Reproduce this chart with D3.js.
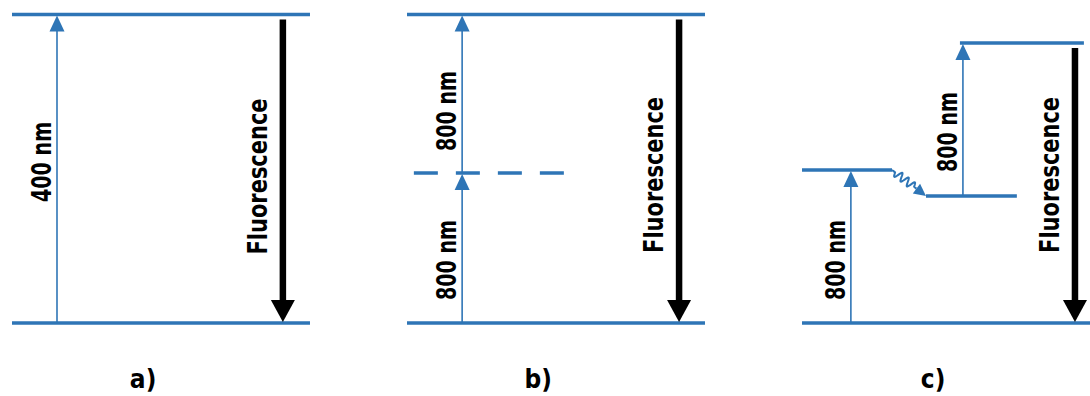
<!DOCTYPE html>
<html>
<head>
<meta charset="utf-8">
<script src="https://cdn.jsdelivr.net/npm/d3@7"></script>
<style>
  body { margin: 0; background: #fff; }
  text { font-family: "DejaVu Sans Condensed", "DejaVu Sans", sans-serif; font-weight: bold; fill: #000; }
</style>
</head>
<body>
<svg id="chart"></svg>
<script>
var width = 1090, height = 396;
var blue = "#2e75b6";

// panels of the diagram
var panels = ["a)", "b)", "c)"];

// energy levels: panel, horizontal extent (fraction of panel), energy (0 = ground, 1 = 400 nm)
var levels = [
  {panel: "a)", f0: 0,     f1: 1,     E: 0},
  {panel: "a)", f0: 0,     f1: 1,     E: 1},
  {panel: "b)", f0: 0,     f1: 1,     E: 0},
  {panel: "b)", f0: 0,     f1: 1,     E: 1},
  {panel: "b)", f0: 0.023, f1: 0.527, E: 0.486, dashed: true},
  {panel: "c)", f0: 0,     f1: 1,     E: 0},
  {panel: "c)", f0: 0,     f1: 0.302, E: 0.496},
  {panel: "c)", f0: 0.416, f1: 0.721, E: 0.412},
  {panel: "c)", f0: 0.530, f1: 0.946, E: 0.908}
];

// absorption arrows (blue): from E0 up to E1, label centred at lE
var excitations = [
  {panel: "a)", f: 0.151, E0: 0,     E1: 1,     label: "400 nm", lE: 0.522},
  {panel: "b)", f: 0.185, E0: 0,     E1: 0.486, label: "800 nm", lE: 0.204},
  {panel: "b)", f: 0.185, E0: 0.486, E1: 1,     label: "800 nm", lE: 0.687},
  {panel: "c)", f: 0.164, E0: 0,     E1: 0.496, label: "800 nm", lE: 0.204},
  {panel: "c)", f: 0.540, E0: 0.412, E1: 0.908, label: "800 nm", lE: 0.619}
];

// emission arrows (black)
var emissions = [
  {panel: "a)", f: 0.909, E0: 1,     E1: 0, label: "Fluorescence", lE: 0.475},
  {panel: "b)", f: 0.913, E0: 1,     E1: 0, label: "Fluorescence", lE: 0.480},
  {panel: "c)", f: 0.916, E0: 0.908, E1: 0, label: "Fluorescence", lE: 0.480}
];

// non-radiative relaxation (wavy arrow)
var relaxations = [
  {panel: "c)", f0: 0.302, E0: 0.496, f1: 0.416, E1: 0.412}
];

var x = d3.scaleBand().domain(panels).range([12, 1100]).paddingInner(0.2456);
var u = d3.scaleLinear().domain([0, 1]).range([0, x.bandwidth()]);
var y = d3.scaleLinear().domain([0, 1]).range([323, 14.5]);

function px(p, f) { return x(p) + u(f); }

var svg = d3.select("#chart")
    .attr("width", width)
    .attr("height", height);

// levels
svg.selectAll("line.level")
    .data(levels)
    .enter()
    .append("line")
    .attr("class", "level")
    .attr("x1", function(d) { return px(d.panel, d.f0); })
    .attr("x2", function(d) { return px(d.panel, d.f1); })
    .attr("y1", function(d) { return y(d.E); })
    .attr("y2", function(d) { return y(d.E); })
    .attr("stroke", blue)
    .attr("stroke-width", 3.5)
    .attr("stroke-dasharray", function(d) { return d.dashed ? "24,18" : null; });

// blue arrows
var hb = 16, wb = 15;
var exc = svg.selectAll("g.exc")
    .data(excitations)
    .enter()
    .append("g");

exc.append("line")
    .attr("x1", function(d) { return px(d.panel, d.f); })
    .attr("x2", function(d) { return px(d.panel, d.f); })
    .attr("y1", function(d) { return y(d.E0); })
    .attr("y2", function(d) { return y(d.E1) + hb - 1; })
    .attr("stroke", blue)
    .attr("stroke-width", 1.6);

exc.append("path")
    .attr("d", function(d) {
      var cx = px(d.panel, d.f), ty = y(d.E1) + 1;
      return "M" + cx + "," + ty + "L" + (cx - wb / 2) + "," + (ty + hb) + "L" + (cx + wb / 2) + "," + (ty + hb) + "Z";
    })
    .attr("fill", blue);

exc.append("text")
    .attr("transform", function(d) {
      return "translate(" + (px(d.panel, d.f) - 6) + "," + y(d.lE) + ") rotate(-90)";
    })
    .attr("text-anchor", "middle")
    .attr("textLength", 80)
    .attr("lengthAdjust", "spacingAndGlyphs")
    .style("font-size", "26px")
    .text(function(d) { return d.label; });

// black arrows
var hk = 22, wk = 24;
var emi = svg.selectAll("g.emi")
    .data(emissions)
    .enter()
    .append("g");

emi.append("line")
    .attr("x1", function(d) { return px(d.panel, d.f); })
    .attr("x2", function(d) { return px(d.panel, d.f); })
    .attr("y1", function(d) { return y(d.E0) + 5; })
    .attr("y2", function(d) { return y(d.E1) - hk + 1; })
    .attr("stroke", "#000")
    .attr("stroke-width", 6.5);

emi.append("path")
    .attr("d", function(d) {
      var cx = px(d.panel, d.f), ty = y(d.E1) - 1;
      return "M" + cx + "," + ty + "L" + (cx - wk / 2) + "," + (ty - hk) + "L" + (cx + wk / 2) + "," + (ty - hk) + "Z";
    })
    .attr("fill", "#000");

emi.append("text")
    .attr("transform", function(d) {
      return "translate(" + (px(d.panel, d.f) - 16) + "," + y(d.lE) + ") rotate(-90)";
    })
    .attr("text-anchor", "middle")
    .attr("textLength", 156)
    .attr("lengthAdjust", "spacingAndGlyphs")
    .style("font-size", "26px")
    .text(function(d) { return d.label; });

// wavy relaxation arrow
relaxations.forEach(function(d) {
  var x0 = px(d.panel, d.f0), y0 = y(d.E0), x1 = px(d.panel, d.f1), y1 = y(d.E1);
  var dx = x1 - x0, dy = y1 - y0, L = Math.sqrt(dx * dx + dy * dy);
  var ux = dx / L, uy = dy / L, nx = -uy, ny = ux;
  var head = 12, pts = [];
  for (var i = 0; i <= 80; i++) {
    var s = i / 80 * (L - head);
    var a = (s > 4 && s < L - head - 3) ? 4 * Math.sin((s - 4) / (L - head - 7) * Math.PI * 2 * 3) : 0;
    pts.push([x0 + ux * s + nx * a, y0 + uy * s + ny * a]);
  }
  svg.append("path")
      .attr("d", d3.line()(pts))
      .attr("fill", "none")
      .attr("stroke", blue)
      .attr("stroke-width", 2);
  var bx = x1 - ux * head, by = y1 - uy * head;
  svg.append("path")
      .attr("d", "M" + x1 + "," + y1 + "L" + (bx + nx * 6) + "," + (by + ny * 6) + "L" + (bx - nx * 6) + "," + (by - ny * 6) + "Z")
      .attr("fill", blue);
});

// panel captions
svg.selectAll("text.cap")
    .data(panels)
    .enter()
    .append("text")
    .attr("class", "cap")
    .attr("x", function(d) { return px(d, 0.44); })
    .attr("y", 388)
    .attr("text-anchor", "middle")
    .style("font-size", "26px")
    .text(function(d) { return d; });
</script>
</body>
</html>
